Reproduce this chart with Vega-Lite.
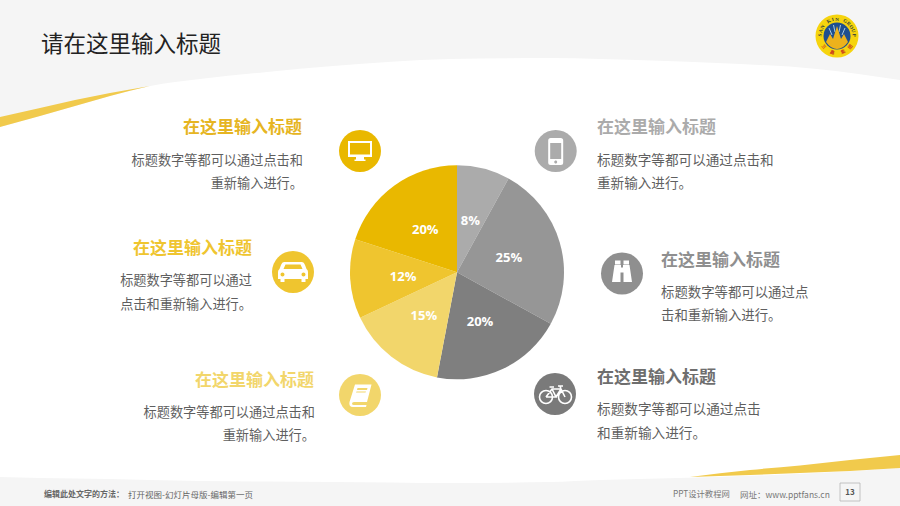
{"$schema":"https://vega.github.io/schema/vega-lite/v6.json","width":900,"height":506,"padding":0,"autosize":{"type":"fit","contains":"padding"},"background":"#f5f5f5","config":{"view":{"stroke":null},"text":{"font":"Noto Sans CJK SC"}},
"data":{"values":[{"seg":"a","ord":1,"v":0.08},{"seg":"b","ord":2,"v":0.25},{"seg":"c","ord":3,"v":0.20},{"seg":"d","ord":4,"v":0.15},{"seg":"e","ord":5,"v":0.12},{"seg":"f","ord":6,"v":0.20}]},
"layer":[
{"data":{"values":[{"x":0,"t":127,"b":477},{"x":40,"t":116,"b":478},{"x":75,"t":106,"b":478.5},{"x":110,"t":96,"b":479},{"x":150,"t":86,"b":480},{"x":200,"t":79,"b":481},{"x":267,"t":72,"b":481.5},{"x":333,"t":66,"b":482},{"x":450,"t":59,"b":483},{"x":550,"t":58,"b":482},{"x":600,"t":59,"b":480},{"x":717,"t":63,"b":477},{"x":817,"t":69,"b":473},{"x":900,"t":80,"b":468}]},"mark":{"type":"area","color":"#ffffff","interpolate":"monotone"},"encoding":{"x":{"field":"x","type":"quantitative","axis":null,"scale":{"domain":[0,900],"nice":false,"zero":false}},"y":{"field":"t","type":"quantitative","axis":null,"scale":{"domain":[506,0],"nice":false,"zero":false}},"y2":{"field":"b"}}},
{"data":{"values":[{"x":0,"t":117,"b":127},{"x":40,"t":108,"b":116},{"x":75,"t":100,"b":106},{"x":110,"t":93,"b":96},{"x":150,"t":86,"b":86}]},"mark":{"type":"area","color":"#f1ca4c","interpolate":"monotone"},"encoding":{"x":{"field":"x","type":"quantitative"},"y":{"field":"t","type":"quantitative"},"y2":{"field":"b"}}},
{"data":{"values":[{"x":690,"t":477,"b":477},{"x":750,"t":470,"b":475},{"x":800,"t":465.5,"b":473},{"x":850,"t":460,"b":471},{"x":900,"t":455,"b":468}]},"mark":{"type":"area","color":"#f1ca4c","interpolate":"monotone"},"encoding":{"x":{"field":"x","type":"quantitative"},"y":{"field":"t","type":"quantitative"},"y2":{"field":"b"}}},
{"mark":{"type":"arc","outerRadius":107},"encoding":{"x":{"datum":457,"type":"quantitative"},"y":{"datum":272.3,"type":"quantitative"},"theta":{"field":"v","type":"quantitative","stack":true},"order":{"field":"ord","type":"quantitative"},"color":{"field":"seg","type":"nominal","legend":null,"scale":{"domain":["a","b","c","d","e","f"],"range":["#ababab","#969696","#7f7f7f","#f2d66b","#efc52f","#e9b800"]}}}},
{"mark":{"type":"text","radius":54,"dy":1,"font":"Open Sans","fontWeight":"bold","fontSize":13,"color":"#ffffff","align":"center","baseline":"middle"},"encoding":{"x":{"datum":457,"type":"quantitative"},"y":{"datum":272.3,"type":"quantitative"},"theta":{"field":"v","type":"quantitative","stack":true},"order":{"field":"ord","type":"quantitative"},"detail":{"field":"seg"},"text":{"field":"v","type":"quantitative","format":".0%"}}},

{"data":{"values":[{}]},"mark":{"type":"point","shape":"circle","filled":true,"opacity":1,"size":1764,"color":"#e9b800"},"encoding":{"x":{"datum":360,"type":"quantitative"},"y":{"datum":151,"type":"quantitative"}}},
{"data":{"values":[{}]},"mark":{"type":"point","shape":"M-12,-10H12V6H4V8.5H5.5V10H-5.5V8.5H-4V6H-12Z M-10,-8V3.5H10V-8Z","filled":true,"opacity":1,"size":4,"color":"#ffffff"},"encoding":{"x":{"datum":360,"type":"quantitative"},"y":{"datum":151,"type":"quantitative"}}},
{"data":{"values":[{}]},"mark":{"type":"point","shape":"circle","filled":true,"opacity":1,"size":1764,"color":"#ababab"},"encoding":{"x":{"datum":555.7,"type":"quantitative"},"y":{"datum":151,"type":"quantitative"}}},
{"data":{"values":[{}]},"mark":{"type":"point","shape":"M-5,-13H5Q7.5,-13 7.5,-10.5V11.5Q7.5,14 5,14H-5Q-7.5,14 -7.5,11.5V-10.5Q-7.5,-13 -5,-13Z M-5.5,-8V8H5.5V-8Z M-1.5,11A1.5,1.5 0 0 0 1.5,11A1.5,1.5 0 0 0 -1.5,11Z","filled":true,"opacity":1,"size":4,"color":"#ffffff"},"encoding":{"x":{"datum":555.7,"type":"quantitative"},"y":{"datum":151,"type":"quantitative"}}},
{"data":{"values":[{}]},"mark":{"type":"point","shape":"circle","filled":true,"opacity":1,"size":1764,"color":"#8f8f8f"},"encoding":{"x":{"datum":622,"type":"quantitative"},"y":{"datum":273.5,"type":"quantitative"}}},
{"data":{"values":[{}]},"mark":{"type":"point","shape":"M-7,-13H-1.5V-9H-7Z M1.5,-13H7V-9H1.5Z M-7.5,-8.5H-1V-6H1V-8.5H7.5L10,8.5H1.5V-1H-1.5V8.5H-10Z","filled":true,"opacity":1,"size":4,"color":"#ffffff"},"encoding":{"x":{"datum":622,"type":"quantitative"},"y":{"datum":273.5,"type":"quantitative"}}},
{"data":{"values":[{}]},"mark":{"type":"point","shape":"circle","filled":true,"opacity":1,"size":1764,"color":"#efc52f"},"encoding":{"x":{"datum":293,"type":"quantitative"},"y":{"datum":272,"type":"quantitative"}}},
{"data":{"values":[{}]},"mark":{"type":"point","shape":"M-9,-10H9Q11,-10 12,-7L13.5,-3Q15,-2 15,0V7H12.5V10H8.5V7H-8.5V10H-12.5V7H-15V0Q-15,-2 -13.5,-3L-12,-7Q-11,-10 -9,-10Z M-7.5,-7.5L-9.5,-3H9.5L7.5,-7.5Z M-12.5,2.5A2,2 0 0 0 -8.5,2.5A2,2 0 0 0 -12.5,2.5Z M8.5,2.5A2,2 0 0 0 12.5,2.5A2,2 0 0 0 8.5,2.5Z","filled":true,"opacity":1,"size":4,"color":"#ffffff"},"encoding":{"x":{"datum":293,"type":"quantitative"},"y":{"datum":272,"type":"quantitative"}}},
{"data":{"values":[{}]},"mark":{"type":"point","shape":"circle","filled":true,"opacity":1,"size":1764,"color":"#f2d66b"},"encoding":{"x":{"datum":360,"type":"quantitative"},"y":{"datum":395,"type":"quantitative"}}},
{"data":{"values":[{}]},"mark":{"type":"point","shape":"M-5,-10.5H11.5L7,7H-6Q-8,7 -8,8.5T-6,10H6.5L6,12H-7Q-11.5,12 -10.5,7Z M-2.5,-7L-3,-5H7L7.5,-7Z M-3.5,-3.5L-4,-2.5H5.5L6,-3.5Z","filled":true,"opacity":1,"size":4,"color":"#ffffff"},"encoding":{"x":{"datum":360,"type":"quantitative"},"y":{"datum":395,"type":"quantitative"}}},
{"data":{"values":[{}]},"mark":{"type":"point","shape":"circle","filled":true,"opacity":1,"size":1764,"color":"#7a7a7a"},"encoding":{"x":{"datum":555,"type":"quantitative"},"y":{"datum":394,"type":"quantitative"}}},
{"data":{"values":[{}]},"mark":{"type":"point","shape":"M-15.5,3A6.5,6.5 0 1 1 -2.5,3A6.5,6.5 0 1 1 -15.5,3Z M3.5,3A6.5,6.5 0 1 1 16.5,3A6.5,6.5 0 1 1 3.5,3Z M-9,3L-3,-5H6L10,3 M-3,-5L1,3H-9 M1,3L6,-5 M-5.5,-7H-1 M5,-8L6,-5 M3,-8H8","filled":false,"opacity":1,"size":4,"color":"#ffffff","strokeWidth":1.6},"encoding":{"x":{"datum":555,"type":"quantitative"},"y":{"datum":394,"type":"quantitative"}}},

{"data":{"values":[{}]},"mark":{"type":"point","shape":"circle","filled":true,"opacity":1,"size":1850,"color":"#f6d40e"},"encoding":{"x":{"datum":837,"type":"quantitative"},"y":{"datum":36,"type":"quantitative"}}},
{"data":{"values":[{}]},"mark":{"type":"point","shape":"circle","filled":true,"opacity":1,"size":729,"color":"#1f4f8f"},"encoding":{"x":{"datum":837,"type":"quantitative"},"y":{"datum":36,"type":"quantitative"}}},
{"data":{"values":[{}]},"mark":{"type":"point","shape":"M-8,-8L-5,-1 M-3.5,-11L-2,-4 M3.5,-11L2,-4 M8,-8L5,-1","filled":false,"opacity":1,"size":4,"color":"#a9cbe3","strokeWidth":1},"encoding":{"x":{"datum":837,"type":"quantitative"},"y":{"datum":36,"type":"quantitative"}}},
{"data":{"values":[{}]},"mark":{"type":"point","shape":"M-11,6L-7,-2L-4,3L0,-10L4,3L7,-2L11,6Q6,13 0,13Q-6,13 -11,6Z","filled":true,"opacity":1,"size":4,"color":"#edb21c"},"encoding":{"x":{"datum":837,"type":"quantitative"},"y":{"datum":36,"type":"quantitative"}}},
{"data":{"values":[{"ch":"S","deg":-87},{"ch":"A","deg":-72.5},{"ch":"N","deg":-58},{"ch":"K","deg":-29},{"ch":"I","deg":-14.5},{"ch":"N","deg":0},{"ch":"G","deg":29},{"ch":"R","deg":43.5},{"ch":"O","deg":58},{"ch":"U","deg":72.5},{"ch":"P","deg":87}]},"transform":[{"calculate":"datum.deg*PI/180","as":"rad"}],"mark":{"type":"text","radius":17.5,"font":"Liberation Serif","fontWeight":"bold","fontSize":5,"color":"#2c3a3a","align":"center","baseline":"middle"},"encoding":{"x":{"datum":837,"type":"quantitative"},"y":{"datum":36,"type":"quantitative"},"theta":{"field":"rad","type":"quantitative","scale":null},"angle":{"field":"deg","type":"quantitative","scale":null},"text":{"field":"ch"}}},
{"data":{"values":[{"ch":"三","deg":231},{"ch":"鑫","deg":196},{"ch":"集","deg":159},{"ch":"团","deg":129}]},"transform":[{"calculate":"datum.deg*PI/180","as":"rad"},{"calculate":"datum.deg-180","as":"rot"}],"mark":{"type":"text","radius":17.5,"fontWeight":"bold","fontSize":4.5,"color":"#c8321e","align":"center","baseline":"middle"},"encoding":{"x":{"datum":837,"type":"quantitative"},"y":{"datum":36,"type":"quantitative"},"theta":{"field":"rad","type":"quantitative","scale":null},"angle":{"field":"rot","type":"quantitative","scale":null},"text":{"field":"ch"}}},

{"data":{"values":[{"label":"请在这里输入标题"}]},"mark":{"type":"text","align":"left","baseline":"middle","fontSize":22.5,"color":"#222222"},"encoding":{"x":{"datum":41,"type":"quantitative"},"y":{"datum":44.5,"type":"quantitative"},"text":{"field":"label"}}},

{"data":{"values":[{"label":"在这里输入标题"}]},"mark":{"type":"text","align":"right","baseline":"middle","fontSize":17,"fontWeight":"bold","color":"#e6b522"},"encoding":{"x":{"datum":302,"type":"quantitative"},"y":{"datum":127.5,"type":"quantitative"},"text":{"field":"label"}}},
{"data":{"values":[{"label":"标题数字等都可以通过点击和"}]},"mark":{"type":"text","align":"right","baseline":"middle","fontSize":13.2,"color":"#5f5f5f"},"encoding":{"x":{"datum":303,"type":"quantitative"},"y":{"datum":160.5,"type":"quantitative"},"text":{"field":"label"}}},
{"data":{"values":[{"label":"重新输入进行。"}]},"mark":{"type":"text","align":"right","baseline":"middle","fontSize":13.2,"color":"#5f5f5f"},"encoding":{"x":{"datum":303,"type":"quantitative"},"y":{"datum":183.5,"type":"quantitative"},"text":{"field":"label"}}},

{"data":{"values":[{"label":"在这里输入标题"}]},"mark":{"type":"text","align":"right","baseline":"middle","fontSize":17,"fontWeight":"bold","color":"#efc52f"},"encoding":{"x":{"datum":252,"type":"quantitative"},"y":{"datum":248.5,"type":"quantitative"},"text":{"field":"label"}}},
{"data":{"values":[{"label":"标题数字等都可以通过"}]},"mark":{"type":"text","align":"right","baseline":"middle","fontSize":13.2,"color":"#5f5f5f"},"encoding":{"x":{"datum":252,"type":"quantitative"},"y":{"datum":280.5,"type":"quantitative"},"text":{"field":"label"}}},
{"data":{"values":[{"label":"点击和重新输入进行。"}]},"mark":{"type":"text","align":"right","baseline":"middle","fontSize":13.2,"color":"#5f5f5f"},"encoding":{"x":{"datum":252,"type":"quantitative"},"y":{"datum":304.5,"type":"quantitative"},"text":{"field":"label"}}},

{"data":{"values":[{"label":"在这里输入标题"}]},"mark":{"type":"text","align":"right","baseline":"middle","fontSize":17,"fontWeight":"bold","color":"#f2d66b"},"encoding":{"x":{"datum":314,"type":"quantitative"},"y":{"datum":380.5,"type":"quantitative"},"text":{"field":"label"}}},
{"data":{"values":[{"label":"标题数字等都可以通过点击和"}]},"mark":{"type":"text","align":"right","baseline":"middle","fontSize":13.2,"color":"#5f5f5f"},"encoding":{"x":{"datum":315,"type":"quantitative"},"y":{"datum":412.5,"type":"quantitative"},"text":{"field":"label"}}},
{"data":{"values":[{"label":"重新输入进行。"}]},"mark":{"type":"text","align":"right","baseline":"middle","fontSize":13.2,"color":"#5f5f5f"},"encoding":{"x":{"datum":315,"type":"quantitative"},"y":{"datum":435.5,"type":"quantitative"},"text":{"field":"label"}}},

{"data":{"values":[{"label":"在这里输入标题"}]},"mark":{"type":"text","align":"left","baseline":"middle","fontSize":17,"fontWeight":"bold","color":"#ababab"},"encoding":{"x":{"datum":597,"type":"quantitative"},"y":{"datum":127.5,"type":"quantitative"},"text":{"field":"label"}}},
{"data":{"values":[{"label":"标题数字等都可以通过点击和"}]},"mark":{"type":"text","align":"left","baseline":"middle","fontSize":13.6,"color":"#5f5f5f"},"encoding":{"x":{"datum":597,"type":"quantitative"},"y":{"datum":160.5,"type":"quantitative"},"text":{"field":"label"}}},
{"data":{"values":[{"label":"重新输入进行。"}]},"mark":{"type":"text","align":"left","baseline":"middle","fontSize":13.6,"color":"#5f5f5f"},"encoding":{"x":{"datum":597,"type":"quantitative"},"y":{"datum":183.5,"type":"quantitative"},"text":{"field":"label"}}},

{"data":{"values":[{"label":"在这里输入标题"}]},"mark":{"type":"text","align":"left","baseline":"middle","fontSize":17,"fontWeight":"bold","color":"#8f8f8f"},"encoding":{"x":{"datum":661,"type":"quantitative"},"y":{"datum":260.5,"type":"quantitative"},"text":{"field":"label"}}},
{"data":{"values":[{"label":"标题数字等都可以通过点"}]},"mark":{"type":"text","align":"left","baseline":"middle","fontSize":13.4,"color":"#5f5f5f"},"encoding":{"x":{"datum":661,"type":"quantitative"},"y":{"datum":292.5,"type":"quantitative"},"text":{"field":"label"}}},
{"data":{"values":[{"label":"击和重新输入进行。"}]},"mark":{"type":"text","align":"left","baseline":"middle","fontSize":13.4,"color":"#5f5f5f"},"encoding":{"x":{"datum":661,"type":"quantitative"},"y":{"datum":315.5,"type":"quantitative"},"text":{"field":"label"}}},

{"data":{"values":[{"label":"在这里输入标题"}]},"mark":{"type":"text","align":"left","baseline":"middle","fontSize":17,"fontWeight":"bold","color":"#6e6e6e"},"encoding":{"x":{"datum":597,"type":"quantitative"},"y":{"datum":377.5,"type":"quantitative"},"text":{"field":"label"}}},
{"data":{"values":[{"label":"标题数字等都可以通过点击"}]},"mark":{"type":"text","align":"left","baseline":"middle","fontSize":13.65,"color":"#5f5f5f"},"encoding":{"x":{"datum":597,"type":"quantitative"},"y":{"datum":409.5,"type":"quantitative"},"text":{"field":"label"}}},
{"data":{"values":[{"label":"和重新输入进行。"}]},"mark":{"type":"text","align":"left","baseline":"middle","fontSize":13.65,"color":"#5f5f5f"},"encoding":{"x":{"datum":597,"type":"quantitative"},"y":{"datum":433.5,"type":"quantitative"},"text":{"field":"label"}}},

{"data":{"values":[{"label":"编辑此处文字的方法："}]},"mark":{"type":"text","align":"left","baseline":"middle","fontSize":8,"fontWeight":"bold","color":"#666666"},"encoding":{"x":{"datum":44,"type":"quantitative"},"y":{"datum":494.5,"type":"quantitative"},"text":{"field":"label"}}},
{"data":{"values":[{"label":"打开视图-幻灯片母版-编辑第一页"}]},"mark":{"type":"text","align":"left","baseline":"middle","fontSize":8.5,"color":"#666666"},"encoding":{"x":{"datum":128,"type":"quantitative"},"y":{"datum":494.5,"type":"quantitative"},"text":{"field":"label"}}},
{"data":{"values":[{"label":"PPT设计教程网"}]},"mark":{"type":"text","align":"left","baseline":"middle","fontSize":8.3,"color":"#777777"},"encoding":{"x":{"datum":673,"type":"quantitative"},"y":{"datum":494.5,"type":"quantitative"},"text":{"field":"label"}}},
{"data":{"values":[{"label":"网址：www.pptfans.cn"}]},"mark":{"type":"text","align":"left","baseline":"middle","fontSize":8.5,"color":"#777777"},"encoding":{"x":{"datum":740,"type":"quantitative"},"y":{"datum":494.5,"type":"quantitative"},"text":{"field":"label"}}},
{"data":{"values":[{}]},"mark":{"type":"rect","fill":null,"stroke":"#b5b5b5","strokeWidth":0.8},"encoding":{"x":{"datum":840,"type":"quantitative"},"x2":{"datum":860},"y":{"datum":483,"type":"quantitative"},"y2":{"datum":501}}},
{"data":{"values":[{"label":"13"}]},"mark":{"type":"text","align":"center","baseline":"middle","fontSize":8,"fontWeight":"bold","color":"#555555"},"encoding":{"x":{"datum":850,"type":"quantitative"},"y":{"datum":493,"type":"quantitative"},"text":{"field":"label"}}}
]}
